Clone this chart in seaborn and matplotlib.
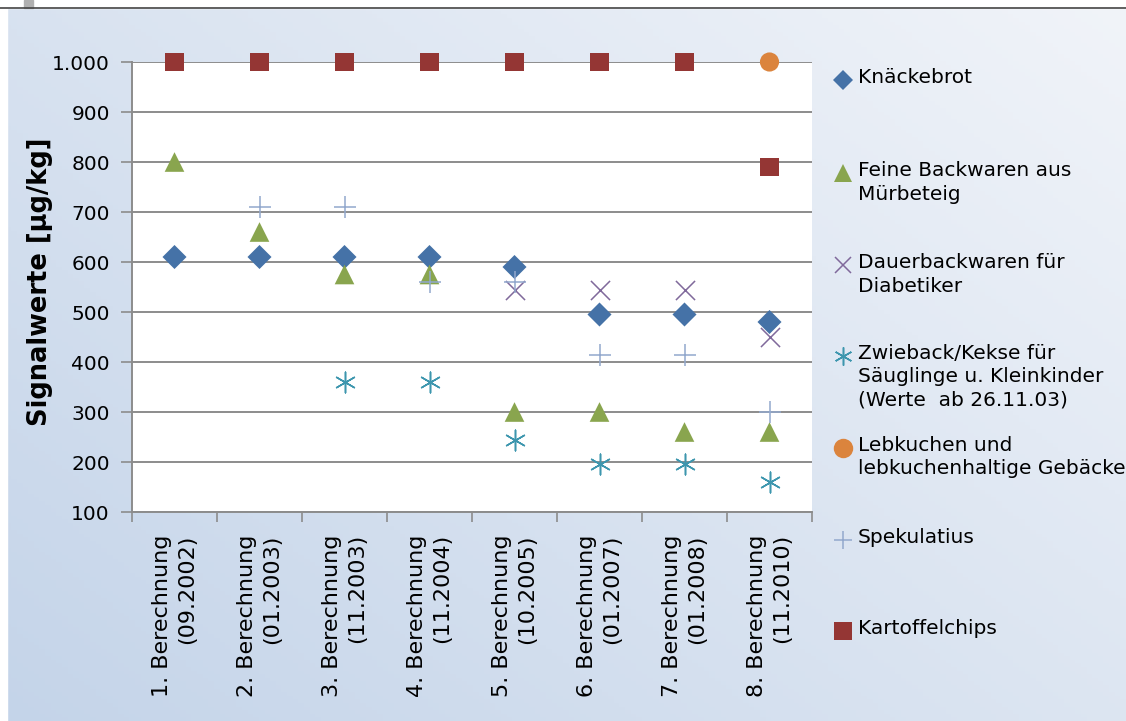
import numpy as np
import pandas as pd
import matplotlib
matplotlib.use("Agg")
import matplotlib.pyplot as plt
from matplotlib.lines import Line2D
from matplotlib.ticker import FuncFormatter, FixedLocator
import seaborn as sns

# Kategorien (Berechnungen)
categories = [
    "1. Berechnung\n(09.2002)", "2. Berechnung\n(01.2003)", "3. Berechnung\n(11.2003)",
    "4. Berechnung\n(11.2004)", "5. Berechnung\n(10.2005)", "6. Berechnung\n(01.2007)",
    "7. Berechnung\n(01.2008)", "8. Berechnung\n(11.2010)",
]

# Signalwerte in µg/kg (NaN = kein Wert)
knaeckebrot = [610, 610, 610, 610, 590, 495, 495, 480]
feine_backwaren = [800, 660, 575, 575, 300, 300, 260, 260]
dauerbackwaren = [np.nan, np.nan, np.nan, np.nan, 545, 545, 545, 450]
zwieback = [np.nan, np.nan, 360, 360, 245, 197, 197, 160]
lebkuchen = [np.nan, np.nan, np.nan, np.nan, np.nan, np.nan, np.nan, 1000]
spekulatius = [np.nan, 710, 710, 560, 560, 415, 415, 300]
kartoffelchips = [1000, 1000, 1000, 1000, 1000, 1000, 1000, 790]

series_names = [
    "Knäckebrot",
    "Feine Backwaren aus\nMürbeteig",
    "Dauerbackwaren für\nDiabetiker",
    "Zwieback/Kekse für\nSäuglinge u. Kleinkinder\n(Werte  ab 26.11.03)",
    "Lebkuchen und\nlebkuchenhaltige Gebäcke",
    "Spekulatius",
    "Kartoffelchips",
]
series_values = [knaeckebrot, feine_backwaren, dauerbackwaren, zwieback,
                 lebkuchen, spekulatius, kartoffelchips]

# Stil je Serie
styles = [
    dict(marker="D", color="#4572a7", s=150, lw=0),
    dict(marker="^", color="#89a54e", s=200, lw=0),
    dict(marker="x", color="#80699b", s=190, lw=1.1),
    dict(marker=(6, 2, 0), color="#3d96ae", s=220, lw=1.1),
    dict(marker="o", color="#db843d", s=190, lw=0),
    dict(marker="+", color="#92a8cd", s=230, lw=1.1),
    dict(marker="s", color="#943634", s=170, lw=0),
]

W, H = 1126, 721
fig = plt.figure(figsize=(W / 100, H / 100), dpi=100)

# Hintergrund mit Verlauf
bg = fig.add_axes([0, 0, 1, 1], zorder=-10)
xx, yy = np.meshgrid(np.linspace(0, 1, 200), np.linspace(0, 1, 200))
t = np.clip(0.55 * xx + 0.45 * yy, 0, 1)
c0 = np.array([0xc4, 0xd4, 0xe9]) / 255
c1 = np.array([0xf1, 0xf4, 0xf9]) / 255
img = c0[None, None, :] * (1 - t[..., None]) + c1[None, None, :] * t[..., None]
bg.imshow(img, extent=[0, 1, 0, 1], origin="lower", aspect="auto")
bg.axhspan(1 - 8 / H, 1, color="white")
bg.axhline(1 - 8 / H, color="#444444", lw=1.2)
bg.axvspan(0, 7 / W, color="white")
bg.add_patch(plt.Rectangle((24 / W, 1 - 8 / H), 9 / W, 8 / H, color="#b0b0b0"))
bg.set_xlim(0, 1)
bg.set_ylim(0, 1)
bg.axis("off")

ax = fig.add_axes([132 / W, 1 - 512 / H, 680 / W, 450 / H])
ax.set_facecolor("white")

# Daten in Langform
rows = []
for name, vals in zip(series_names, series_values):
    for i, v in enumerate(vals):
        rows.append({"serie": name, "pos": i, "wert": v})
df = pd.DataFrame(rows).dropna()

for name, st in zip(series_names, styles):
    sub = df[df["serie"] == name]
    sns.scatterplot(data=sub, x="pos", y="wert", ax=ax, marker=st["marker"],
                    color=st["color"], s=st["s"], linewidth=st["lw"],
                    edgecolor=st["color"] if st["lw"] else "none",
                    clip_on=False, zorder=5, legend=False)

ax.set_xlim(-0.5, len(categories) - 0.5)
ax.set_ylim(100, 1000)
ax.set_yticks(range(100, 1001, 100))
ax.yaxis.set_major_formatter(FuncFormatter(lambda v, p: f"{int(v):,}".replace(",", ".")))
ax.grid(axis="y", color="#8c8c8c", lw=1.4)
ax.grid(axis="x", visible=False)
ax.set_axisbelow(True)

ax.set_xticks(range(len(categories)))
ax.set_xticklabels(categories, rotation=90, fontsize=16, ha="center", va="top",
                   multialignment="right", linespacing=1.3)
ax.xaxis.set_minor_locator(FixedLocator(np.arange(-0.5, len(categories), 1)))
ax.tick_params(axis="x", which="major", length=0, pad=16)
ax.tick_params(axis="x", which="minor", length=7, color="#8c8c8c", width=1.2)
ax.tick_params(axis="y", length=8, color="#8c8c8c", width=1.2, labelsize=14.5, pad=8)

for side in ["top", "right"]:
    ax.spines[side].set_visible(False)
for side in ["left", "bottom"]:
    ax.spines[side].set_color("#8c8c8c")
    ax.spines[side].set_linewidth(1.4)

ax.set_xlabel("")
ax.set_ylabel("Signalwerte [µg/kg]", fontsize=18.5, fontweight="bold")
ax.yaxis.set_label_coords(-0.116, 0.511)

# Legende manuell rechts neben dem Diagramm
leg_y = [80, 173, 265, 356, 448, 540, 631]
leg_sizes = [10, 13, 12, 13, 14, 13, 13]
for name, st, y, ms in zip(series_names, styles, leg_y, leg_sizes):
    fig.add_artist(Line2D([843 / W], [1 - y / H], marker=st["marker"], color=st["color"],
                          markersize=ms, markeredgewidth=st["lw"] if st["lw"] else 0,
                          markeredgecolor=st["color"], linestyle="none"))
    fig.text(858 / W, 1 - (y - 12) / H, name, fontsize=14.5, va="top", ha="left",
             linespacing=1.3)

fig.savefig("out.png", dpi=100)
